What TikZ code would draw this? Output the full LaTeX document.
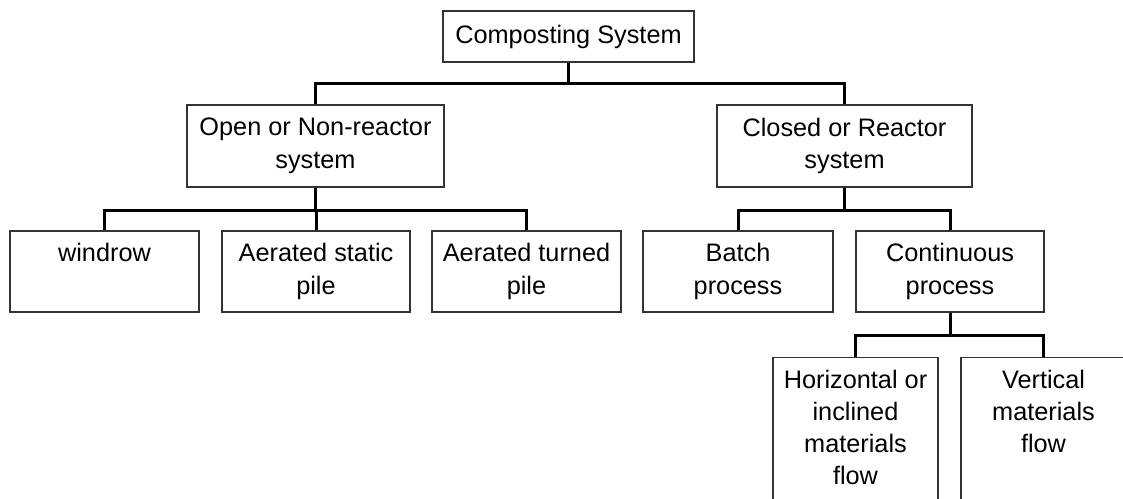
\documentclass[tikz,border=0pt]{standalone}
\usepackage{fontspec}
\setmainfont{Liberation Sans}
\begin{document}
\begin{tikzpicture}[x=1pt,y=-1pt,
  box/.style={draw=black!80, line width=1.4pt, inner sep=0pt, align=center,
    font=\fontsize{25.3}{32.5}\selectfont},
  txt/.style={inner sep=0pt, align=center, font=\fontsize{25.3}{32}\selectfont},
  conn/.style={line width=3pt, line join=miter}]
\useasboundingbox (0,0) rectangle (1123,498);
\clip (0,0) rectangle (1123,498);
% level 0
\node[box, minimum width=251, minimum height=51] (top) at (568.5,36.5) {Composting System};
% level 1
\node[box, minimum width=257, minimum height=82] (open) at (315.5,146) {Open or Non-reactor\\system};
\node[box, minimum width=255, minimum height=82] (closed) at (844.5,146) {Closed or Reactor\\system};
% level 2
\node[box, minimum width=189, minimum height=81] (windrow) at (104.5,271.5) {windrow\\\phantom{p}};
\node[box, minimum width=188, minimum height=81] (static) at (316,271.5) {Aerated static\\pile};
\node[box, minimum width=189, minimum height=81] (turned) at (526.5,271.5) {Aerated turned\\pile};
\node[box, minimum width=190, minimum height=81] (batch) at (738,271.5) {Batch\\process};
\node[box, minimum width=188, minimum height=81] (cont) at (950,271.5) {Continuous\\process};
% level 3
\node[box, minimum width=165, minimum height=170, anchor=north] (hor) at (855.5,357) {};
\node[txt, anchor=north] (horT) at (855.5,369.5) {Horizontal or\\inclined\\materials\\flow};
\node[box, minimum width=165, minimum height=170, anchor=north] (vert) at (1043.5,357) {};
\node[txt, anchor=north] (vertT) at (1043.5,369.5) {Vertical\\materials\\flow};
% connectors
\draw[conn] (top.south) -- ++(0,21) coordinate (j0) -| (open.north);
\draw[conn] (j0) -| (closed.north);
\draw[conn] (open.south) -- ++(0,23) coordinate (j1) -| (windrow.north);
\draw[conn] (j1) -| (turned.north);
\draw[conn] (j1) -| (static.north);
\draw[conn] (closed.south) -- ++(0,23) coordinate (j2) -| (batch.north);
\draw[conn] (j2) -| (cont.north);
\draw[conn] (cont.south) -- ++(0,23) coordinate (j3) -| (hor.north);
\draw[conn] (j3) -| (vert.north);
\end{tikzpicture}
\end{document}
